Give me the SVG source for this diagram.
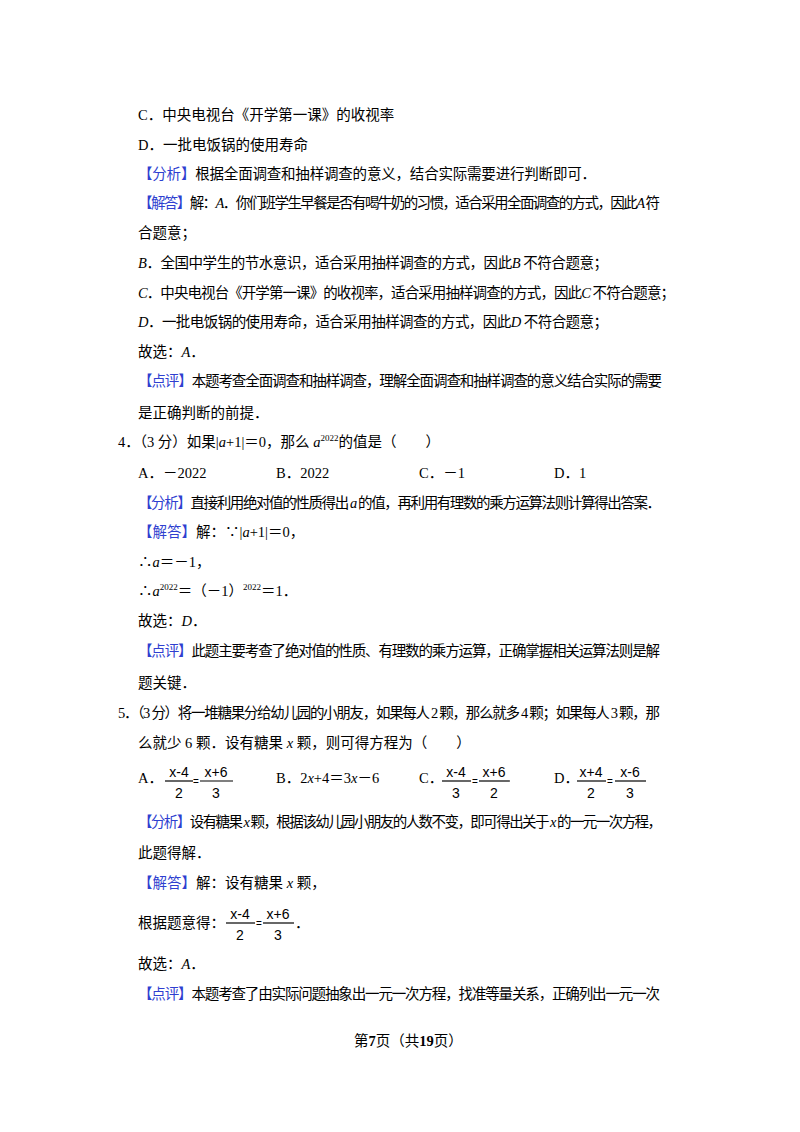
<svg xmlns="http://www.w3.org/2000/svg" width="800" height="1132" viewBox="0 0 800 1132">
<style>
text{font-family:"Liberation Serif","Noto Sans CJK SC",serif;font-size:14.5px;fill:#000}
.b{fill:#2f3fd0}
.i{font-style:italic}
.f{font-family:"Liberation Sans","Noto Sans CJK SC",sans-serif;font-size:14px}
.e{font-family:"Liberation Sans",sans-serif;font-size:10px}
.s{font-size:9px}
line{stroke:#000;stroke-width:1.2}
</style>
<rect width="800" height="1132" fill="#fff"/>
<text x="138" y="120">C．中央电视台《开学第一课》的收视率</text>
<text x="138" y="150">D．一批电饭锅的使用寿命</text>
<text x="138" y="179" textLength="458"><tspan class="b">【分析】</tspan>根据全面调查和抽样调查的意义，结合实际需要进行判断即可．</text>
<text x="138" y="208" textLength="522"><tspan class="b">【解答】</tspan>解：<tspan class="i">A</tspan>．你们班学生早餐是否有喝牛奶的习惯，适合采用全面调查的方式，因此<tspan class="i">A</tspan> 符</text>
<text x="138" y="238">合题意；</text>
<text x="138" y="268" textLength="470"><tspan class="i">B</tspan>．全国中学生的节水意识，适合采用抽样调查的方式，因此<tspan class="i">B</tspan> 不符合题意；</text>
<text x="138" y="298" textLength="537"><tspan class="i">C</tspan>．中央电视台《开学第一课》的收视率，适合采用抽样调查的方式，因此<tspan class="i">C</tspan> 不符合题意；</text>
<text x="138" y="327" textLength="470"><tspan class="i">D</tspan>．一批电饭锅的使用寿命，适合采用抽样调查的方式，因此<tspan class="i">D</tspan> 不符合题意；</text>
<text x="138" y="357">故选：<tspan class="i">A</tspan>．</text>
<text x="138" y="386" textLength="524"><tspan class="b">【点评】</tspan>本题考查全面调查和抽样调查，理解全面调查和抽样调查的意义结合实际的需要</text>
<text x="138" y="418">是正确判断的前提．</text>
<text x="118" y="447">4．（3 分）如果|<tspan class="i">a</tspan>+1|＝0，那么 <tspan class="i">a</tspan><tspan class="s" dy="-6">2022</tspan><tspan dy="6">的值是（　　）</tspan></text>
<text x="138" y="478">A．－2022</text>
<text x="276" y="478">B．2022</text>
<text x="419" y="478">C．－1</text>
<text x="554" y="478">D．1</text>
<text x="138" y="508" textLength="523"><tspan class="b">【分析】</tspan>直接利用绝对值的性质得出 <tspan class="i">a</tspan> 的值，再利用有理数的乘方运算法则计算得出答案．</text>
<text x="138" y="537"><tspan class="b">【解答】</tspan>解：∵|<tspan class="i">a</tspan>+1|＝0，</text>
<text x="138" y="567">∴<tspan class="i">a</tspan>＝－1，</text>
<text x="138" y="596">∴<tspan class="i">a</tspan><tspan class="s" dy="-6">2022</tspan><tspan dy="6">＝（－1）</tspan><tspan class="s" dy="-6">2022</tspan><tspan dy="6">＝1．</tspan></text>
<text x="138" y="626">故选：<tspan class="i">D</tspan>．</text>
<text x="138" y="656" textLength="522"><tspan class="b">【点评】</tspan>此题主要考查了绝对值的性质、有理数的乘方运算，正确掌握相关运算法则是解</text>
<text x="138" y="688">题关键．</text>
<text x="118" y="718" textLength="542">5．（3 分）将一堆糖果分给幼儿园的小朋友，如果每人 2 颗，那么就多 4 颗；如果每人 3 颗，那</text>
<text x="138" y="748">么就少 6 颗．设有糖果 <tspan class="i">x</tspan> 颗，则可得方程为（　　）</text>
<g id="optA">
<text x="138" y="783">A．</text>
<text class="f" x="179" y="777" text-anchor="middle">x-4</text><line x1="165" y1="781" x2="193" y2="781"/><text class="f" x="179" y="798" text-anchor="middle">2</text>
<text class="e" x="196" y="785" text-anchor="middle">=</text>
<text class="f" x="216" y="777" text-anchor="middle">x+6</text><line x1="200" y1="781" x2="233" y2="781"/><text class="f" x="216" y="798" text-anchor="middle">3</text>
</g>
<text x="276" y="783">B．2<tspan class="i">x</tspan>+4＝3<tspan class="i">x</tspan>－6</text>
<g id="optC">
<text x="419" y="783">C．</text>
<text class="f" x="456" y="777" text-anchor="middle">x-4</text><line x1="442" y1="781" x2="471" y2="781"/><text class="f" x="456" y="798" text-anchor="middle">3</text>
<text class="e" x="475" y="785" text-anchor="middle">=</text>
<text class="f" x="494" y="777" text-anchor="middle">x+6</text><line x1="479" y1="781" x2="510" y2="781"/><text class="f" x="494" y="798" text-anchor="middle">2</text>
</g>
<g id="optD">
<text x="554" y="783">D．</text>
<text class="f" x="591" y="777" text-anchor="middle">x+4</text><line x1="577" y1="781" x2="606" y2="781"/><text class="f" x="591" y="798" text-anchor="middle">2</text>
<text class="e" x="610" y="785" text-anchor="middle">=</text>
<text class="f" x="630" y="777" text-anchor="middle">x-6</text><line x1="615" y1="781" x2="646" y2="781"/><text class="f" x="630" y="798" text-anchor="middle">3</text>
</g>
<text x="138" y="827" textLength="524"><tspan class="b">【分析】</tspan>设有糖果 <tspan class="i">x</tspan> 颗，根据该幼儿园小朋友的人数不变，即可得出关于 <tspan class="i">x</tspan> 的一元一次方程，</text>
<text x="138" y="858">此题得解．</text>
<text x="138" y="888"><tspan class="b">【解答】</tspan>解：设有糖果 <tspan class="i">x</tspan> 颗，</text>
<text x="138" y="928">根据题意得：</text>
<text class="f" x="240" y="919" text-anchor="middle">x-4</text><line x1="226" y1="923" x2="255" y2="923"/><text class="f" x="240" y="940" text-anchor="middle">2</text>
<text class="e" x="259" y="927" text-anchor="middle">=</text>
<text class="f" x="278" y="919" text-anchor="middle">x+6</text><line x1="263" y1="923" x2="294" y2="923"/><text class="f" x="278" y="940" text-anchor="middle">3</text>
<text x="295" y="928">．</text>
<text x="138" y="969">故选：<tspan class="i">A</tspan>．</text>
<text x="138" y="999" textLength="522"><tspan class="b">【点评】</tspan>本题考查了由实际问题抽象出一元一次方程，找准等量关系，正确列出一元一次</text>
<text x="354" y="1046" font-size="13">第<tspan font-weight="bold">7</tspan>页（共<tspan font-weight="bold">19</tspan>页）</text>
</svg>
